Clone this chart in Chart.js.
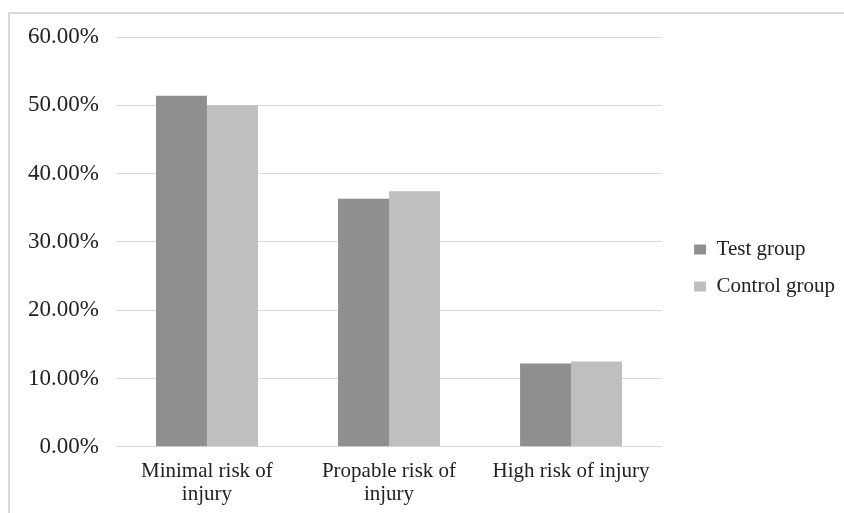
<!DOCTYPE html>
<html>
<head>
<meta charset="utf-8">
<script src="https://cdn.jsdelivr.net/npm/chart.js@4"></script>
<style>
  html, body { margin: 0; padding: 0; background: #fff; overflow: hidden; }
  #wrap { position: relative; width: 844px; height: 513px; }
  #frame { position: absolute; left: 8px; top: 12px; width: 900px; height: 600px; border: 2px solid #d9d9d9; box-sizing: border-box; }
  canvas { position: absolute; left: 0; top: 0; }
</style>
</head>
<body>
<div id="wrap">
  <div id="frame"></div>
  <canvas id="c" width="844" height="513"></canvas>
</div>
<script>
const categories = [['Minimal risk of', 'injury'], ['Propable risk of', 'injury'], 'High risk of injury'];
const testGroup = [51.4, 36.3, 12.2];
const controlGroup = [50.0, 37.4, 12.5];
const seriesNames = ['Test group', 'Control group'];
const yTicks = [0, 10, 20, 30, 40, 50, 60];

const FONT = 'Liberation Serif, Times New Roman, serif';

const legendShift = {
  id: 'legendShift',
  afterLayout(chart) {
    const l = chart.legend;
    if (!l) return;
    const dx = 16, dy = -10;
    l.left += dx; l.right += dx;
    l.top += dy; l.bottom += dy;
  }
};

new Chart(document.getElementById('c'), {
  type: 'bar',
  data: {
    labels: categories,
    datasets: [
      { label: seriesNames[0], data: testGroup, backgroundColor: '#8f8f8f', borderWidth: 0 },
      { label: seriesNames[1], data: controlGroup, backgroundColor: '#bfbfbf', borderWidth: 0 }
    ]
  },
  options: {
    responsive: false,
    animation: false,
    devicePixelRatio: 1,
    layout: { padding: { left: 11, top: 37, right: 15, bottom: -6 } },
    datasets: { bar: { categoryPercentage: 0.56, barPercentage: 1.0 } },
    plugins: {
      title: { display: false },
      tooltip: { enabled: false },
      legend: {
        position: 'right',
        align: 'center',
        labels: {
          boxWidth: 12,
          boxHeight: 10,
          padding: 16,
          color: '#222',
          font: { family: FONT, size: 21 }
        }
      }
    },
    scales: {
      x: {
        grid: { display: false, drawTicks: false },
        border: { display: false },
        ticks: {
          color: '#222',
          padding: 13,
          maxRotation: 0,
          autoSkip: false,
          font: { family: FONT, size: 21, lineHeight: 1.1 }
        }
      },
      y: {
        min: 0,
        max: 60,
        afterBuildTicks(scale) { scale.ticks = yTicks.map(v => ({ value: v })); },
        grid: { color: '#d9d9d9', lineWidth: 1, drawTicks: false },
        border: { display: false },
        ticks: {
          color: '#222',
          padding: 17,
          font: { family: FONT, size: 23 },
          callback: v => v.toFixed(2) + '%'
        }
      }
    }
  },
  plugins: [legendShift]
});
</script>
</body>
</html>
